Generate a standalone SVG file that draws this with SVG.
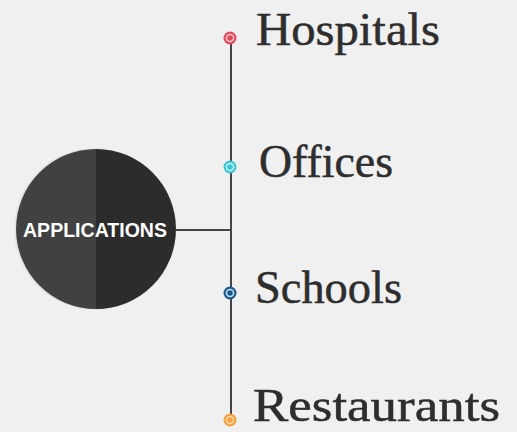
<svg xmlns="http://www.w3.org/2000/svg" width="517" height="432" viewBox="0 0 517 432">
<style>
.lbl{font-family:"Liberation Serif","Times New Roman",serif;font-size:46px;fill:#2e2e2e;stroke:#2e2e2e;stroke-width:0.5}
.line{stroke:#454548;stroke-width:2;fill:none}
</style>
<rect width="517" height="432" fill="#f0f0f0"/>
<g id="connectors">
<line class="line" x1="174" y1="230" x2="231" y2="230"/>
<line class="line" x1="231" y1="38" x2="231" y2="420"/>
</g>
<g id="applications">
<circle cx="95" cy="229" r="81" fill="#e4e4e4"/>
<path d="M96,149 A80,80 0 0 0 96,309 Z" fill="#414141"/>
<path d="M96,149 A80,80 0 0 1 96,309 Z" fill="#2c2c2c"/>
<text x="95" y="237" text-anchor="middle" font-family="Liberation Sans, Arial, sans-serif" font-weight="bold" font-size="19.5" fill="#ffffff" textLength="144" lengthAdjust="spacingAndGlyphs">APPLICATIONS</text>
</g>
<g id="hospitals">
<circle cx="230" cy="38" r="6.5" fill="#e8485c"/>
<circle cx="230" cy="38" r="4.3" fill="#f7c9cf"/>
<circle cx="230" cy="38" r="2.8" fill="#e8485c"/>
<text class="lbl" x="256" y="45" textLength="184" lengthAdjust="spacingAndGlyphs">Hospitals</text>
</g>
<g id="offices">
<circle cx="230" cy="167" r="6.5" fill="#3cc6d6"/>
<circle cx="230" cy="167" r="4.3" fill="#c6f0f5"/>
<circle cx="230" cy="167" r="2.8" fill="#3cc6d6"/>
<text class="lbl" x="259" y="177" textLength="134" lengthAdjust="spacingAndGlyphs">Offices</text>
</g>
<g id="schools">
<circle cx="230" cy="293" r="6.5" fill="#1f5a8c"/>
<circle cx="230" cy="293" r="4.3" fill="#bfe3f5"/>
<circle cx="230" cy="293" r="2.8" fill="#1f5a8c"/>
<text class="lbl" x="255" y="303" textLength="147" lengthAdjust="spacingAndGlyphs">Schools</text>
</g>
<g id="restaurants">
<circle cx="230" cy="420" r="6.5" fill="#f3a13c"/>
<circle cx="230" cy="420" r="4.3" fill="#fbd9a8"/>
<circle cx="230" cy="420" r="2.8" fill="#f3a13c"/>
<text class="lbl" x="253" y="421" font-size="47" textLength="247" lengthAdjust="spacingAndGlyphs">Restaurants</text>
</g>
</svg>
